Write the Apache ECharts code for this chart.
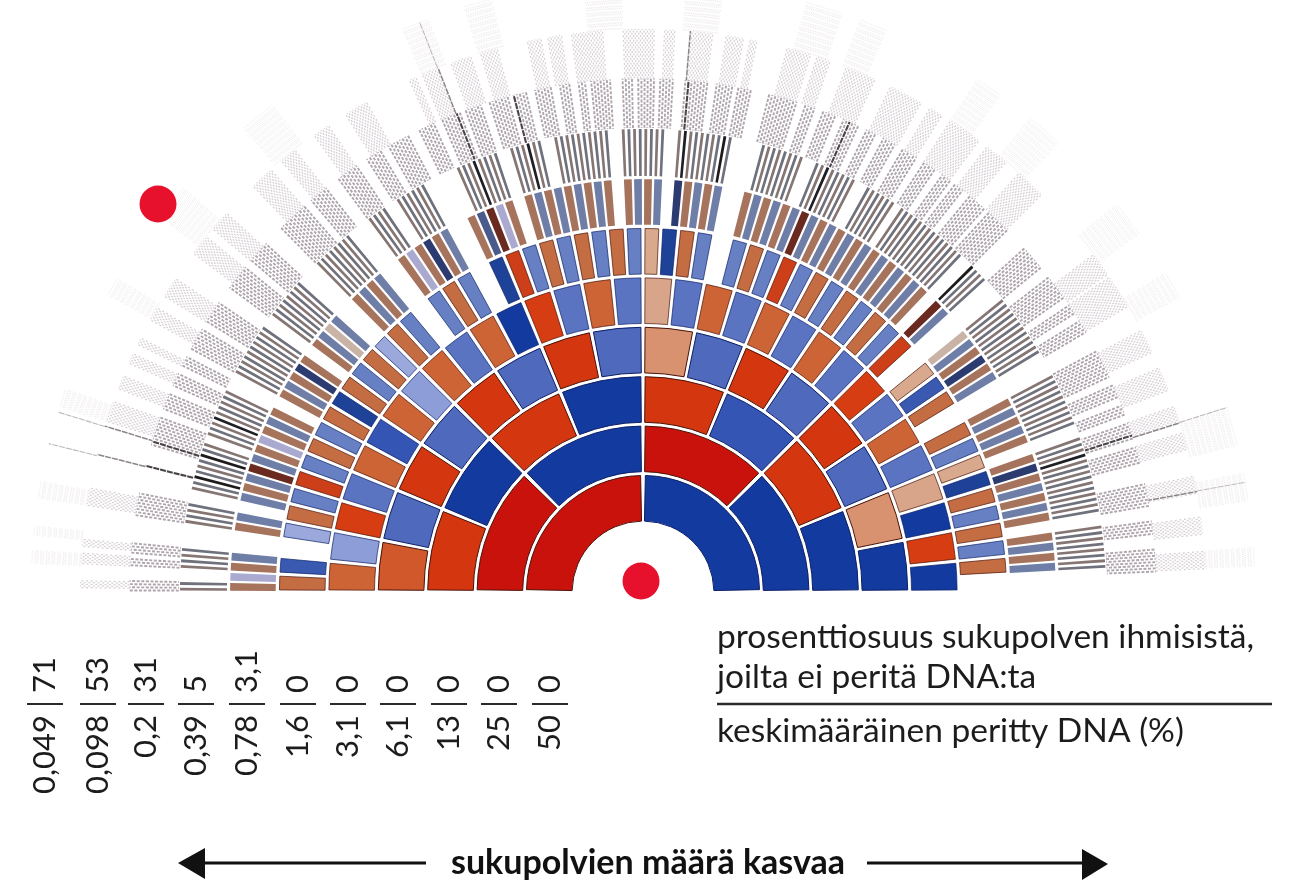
<!DOCTYPE html>
<html>
<head>
<meta charset="utf-8">
<title>sukupolvet</title>
<script src="https://cdn.jsdelivr.net/npm/echarts@6/dist/echarts.min.js"></script>
<style>
  html, body { margin: 0; padding: 0; background: #fff; }
  #chart { width: 1302px; height: 882px; }
  /* the source is a soft print scan */
  #chart canvas { filter: blur(0.45px); }
</style>
</head>
<body>
<div id="chart"></div>
<script>
// inherited-DNA strength per ancestor, clockwise from the left: 0 = nothing inherited
const ring1 = [4, 4];
const ring2 = [4, 4, 4, 4];
const ring3 = [3, 4, 3, 4, 3, 3, 3, 4];
const ring4 = [2, 2, 3, 2, 3, 2, 3, 2, 1, 2, 3, 2, 3, 2, 1, 4];
const ring5 = [2, 1, 3, 2, 2, 3, 2, 1, 2, 2, 2, 4, 3, 2, 2, 2,
  1, 2, 2, 2, 2, 2, 2, 2, 3, 2, 2, 2, 1, 4, 3, 4];
const ring6 = [2, 3, 0, 1, 2, 2, 3, 2, 2, 2, 2, 4, 2, 2, 2, 1,
  2, 2, 0, 2, 2, 2, 0, 4, 3, 2, 2, 2, 2, 2, 2, 2,
  1, 4, 2, 2, 0, 2, 2, 2, 3, 2, 2, 2, 2, 2, 2, 2,
  3, 0, 1, 3, 2, 0, 2, 2, 1, 4, 2, 2, 2, 2, 2, 0];
const ring7 = [2, 1, 2, 2, 0, 0, 2, 2, 0, 2, 2, 2, 4, 2, 2, 1,
  2, 2, 2, 0, 2, 2, 2, 4, 2, 0, 2, 2, 1, 2, 0, 0,
  2, 2, 2, 2, 0, 0, 2, 1, 2, 4, 2, 2, 0, 0, 2, 3,
  4, 1, 2, 0, 2, 2, 2, 2, 2, 2, 2, 2, 2, 0, 2, 2,
  2, 2, 0, 4, 2, 2, 2, 2, 0, 0, 2, 2, 2, 2, 2, 2,
  4, 2, 2, 2, 2, 2, 2, 2, 2, 2, 2, 2, 2, 2, 2, 0,
  4, 2, 0, 0, 1, 2, 2, 4, 2, 2, 0, 0, 2, 2, 2, 2,
  2, 0, 2, 4, 2, 2, 2, 2, 2, 0, 2, 2, 2, 2, 0, 0];

// outer generations are too fine to list one by one: runs of present ancestors [first, last]
const ring8Runs = [[0, 1], [4, 7], [12, 15], [18, 26], [28, 36], [40, 49], [52, 55], [56, 59], [64, 67], [68, 71],
  [76, 79], [82, 87], [94, 101], [104, 109], [112, 121], [124, 127], [128, 131], [134, 143], [149, 156],
  [159, 166], [169, 174], [176, 179], [180, 189], [192, 195], [200, 211], [216, 225], [228, 241], [244, 251]];
const ring9Runs = [[0, 3], [8, 10], [12, 15], [24, 31], [47, 56], [59, 64], [67, 71], [74, 77], [80, 87], [90, 97],
  [103, 111], [114, 121], [128, 138], [141, 147], [152, 159], [163, 168], [171, 178], [182, 187], [190, 196],
  [198, 203], [206, 212], [215, 218], [221, 226], [229, 232], [235, 237], [239, 245], [249, 252], [254, 259],
  [261, 265], [269, 276], [279, 284], [286, 290], [296, 305], [308, 311], [314, 318], [321, 326], [329, 332],
  [335, 339], [342, 347], [350, 354], [357, 360], [362, 365], [368, 374], [376, 384], [392, 400], [404, 412],
  [415, 418], [421, 425], [432, 441], [444, 448], [451, 454], [457, 462], [465, 470], [477, 484], [489, 493], [498, 505]];
const ring10Runs = [[2, 6], [16, 22], [26, 30], [50, 60], [100, 112], [120, 128], [136, 142], [148, 152], [164, 172],
  [180, 192], [210, 222], [228, 240], [262, 276], [284, 294], [308, 318], [330, 344], [372, 376], [380, 390],
  [398, 410], [416, 426], [444, 452], [456, 464], [470, 488], [500, 518], [524, 530], [540, 552], [560, 570],
  [574, 578], [596, 610], [614, 622], [632, 650], [660, 680], [686, 694], [700, 720], [726, 740], [750, 768],
  [814, 828], [830, 850], [866, 880], [890, 904], [914, 924], [930, 940], [956, 966], [980, 990], [1000, 1010]];
const ring11Runs = [[30, 44], [60, 70], [100, 118], [200, 220], [330, 350], [430, 470], [560, 600], [760, 790],
  [830, 860], [960, 1000], [1070, 1110], [1200, 1240], [1260, 1290], [1400, 1430], [1470, 1510], [1600, 1640],
  [1690, 1720], [1850, 1890], [1920, 1950], [2000, 2020]];

// the few ancestors that print as dark lines in the outer rings
const ring8Dark = [20, 24, 31, 97, 107, 135, 142, 161, 192, 231];
const ring9Dark = [40, 48, 195, 214, 270, 323, 461];
const ring10Dark = [80, 97, 390, 539, 924, 965];
const ring11Dark = [159, 194, 780, 1848, 1930];

// table under the fan
const avgInherited = ["0,049", "0,098", "0,2", "0,39", "0,78", "1,6", "3,1", "6,1", "13", "25", "50"];
const noInheritShare = ["71", "53", "31", "5", "3,1", "0", "0", "0", "0", "0", "0"];
const columnX = [45, 98, 146, 196, 247, 298, 348, 398, 449, 499, 550];

const REDS = {
  1: ["", "#d99270", "#d0582a", "#d4370f", "#c9120c"],
  5: ["", "#d9a58a", "#cc6436", "#d63d12", "#c9120c"],
  6: ["", "#d8a98c", "#c46c42", "#cc3f18", "#c9120c"],
  7: ["", "#c9b3a6", "#a6735c", "#8a4a3a", "#6b2a20"],
  8: ["", "#a89c98", "#857674", "#5a4c4a", "#1f1a1c"]
};
const BLUES = {
  1: ["", "#8d9dd8", "#4f6abc", "#3555b5", "#123a9f"],
  5: ["", "#8d9dd8", "#5a74c2", "#3555b5", "#123a9f"],
  6: ["", "#9aa8dc", "#6780c4", "#3a5ab2", "#1e4298"],
  7: ["", "#aaaad0", "#6f7ea6", "#4a5a8a", "#2c3c70"],
  8: ["", "#9a9ba4", "#6f717c", "#4a4c58", "#1f1f26"]
};
const FINE = {
  9: { color: "#aea5ad", dark: "#4a4447", width: 1.9, dash: [3, 1.6] },
  10: { color: "#d8d1d6", dark: "#8b8588", width: 1.3, dash: [2, 2.6] },
  11: { color: "#eeeaec", dark: "#bdb8ba", width: 0.9, dash: [1.6, 4] }
};

function addRing(cells, ring, levels) {
  levels.forEach((level, index) => {
    if (level > 0) cells.push([ring, index, level]);
  });
}

function addRuns(cells, ring, runs, dark) {
  runs.forEach(([first, last]) => {
    for (let index = first; index <= last; index++) {
      cells.push([ring, index, dark.includes(index) ? 4 : 2]);
    }
  });
  dark.forEach(index => {
    if (!cells.some(c => c[0] === ring && c[1] === index)) cells.push([ring, index, 4]);
  });
}

const cells = [];
[ring1, ring2, ring3, ring4, ring5, ring6, ring7].forEach((levels, i) => addRing(cells, i + 1, levels));
addRuns(cells, 8, ring8Runs, ring8Dark);
addRuns(cells, 9, ring9Runs, ring9Dark);
addRuns(cells, 10, ring10Runs, ring10Dark);
addRuns(cells, 11, ring11Runs, ring11Dark);

function paletteRing(ring) {
  if (ring <= 4) return 1;
  return ring;
}

function renderCell(params, api) {
  const ring = api.value(0);
  const index = api.value(1);
  const level = api.value(2);
  const step = 180 / Math.pow(2, ring);
  const cx = params.coordSys.cx;
  const cy = params.coordSys.cy;
  const a0 = api.coord([ring - 1, index * step]);
  const a1 = api.coord([ring, (index + 1) * step]);

  if (ring >= 9) {
    const fine = FINE[ring];
    const mid = (index + 0.5) * step;
    const p0 = api.coord([ring - 1, mid]);
    const p1 = api.coord([ring, mid]);
    return {
      type: "line",
      shape: { x1: p0[0], y1: p0[1], x2: p1[0], y2: p1[1] },
      style: {
        stroke: level === 4 ? fine.dark : fine.color,
        lineWidth: level === 4 ? fine.width + 0.2 : fine.width,
        lineDash: level === 4 ? [6, 1] : fine.dash,
        lineDashOffset: index % 2 ? 2.2 : 0
      }
    };
  }

  const r0 = Math.hypot(a0[0] - cx, a0[1] - cy);
  const r1 = Math.hypot(a1[0] - cx, a1[1] - cy);
  let start = Math.atan2(a0[1] - cy, a0[0] - cx);
  let end = Math.atan2(a1[1] - cy, a1[0] - cx);
  if (start > 0) start -= Math.PI * 2;
  if (end > 0.0001 && end > Math.PI) end -= Math.PI * 2;

  const rim = ring >= 8 ? 1.2 : 1.9;
  const sidePad = (ring >= 8 ? 1.35 : ring === 7 ? 1.1 : 1.9) / ((r0 + r1) / 2);
  const pal = paletteRing(ring);
  const isBlue = index % 2 === 1;
  const fill = (isBlue ? BLUES : REDS)[pal][level];
  return {
    type: "sector",
    shape: {
      cx: cx, cy: cy,
      r0: r0 + rim, r: r1 - rim,
      startAngle: start + sidePad, endAngle: end - sidePad,
      clockwise: true
    },
    style: {
      fill: fill,
      stroke: ring <= 6 ? (isBlue ? "#0d1f66" : "#4a130a") : null,
      lineWidth: ring <= 4 ? 1 : 0.7
    }
  };
}

const FONT = 'Lato, "Open Sans", sans-serif';
const graphics = [];

avgInherited.forEach((label, i) => {
  const x = columnX[i];
  graphics.push({
    type: "text", x: x, y: 715, rotation: Math.PI / 2,
    style: { text: label, fill: "#1c1c1c", font: "400 31px " + FONT, align: "right", verticalAlign: "middle" }
  });
  graphics.push({
    type: "text", x: x, y: 693, rotation: Math.PI / 2,
    style: { text: noInheritShare[i], fill: "#1c1c1c", font: "400 31px " + FONT, align: "left", verticalAlign: "middle" }
  });
  graphics.push({
    type: "line", shape: { x1: x - 18, y1: 704, x2: x + 18, y2: 704 },
    style: { stroke: "#2a2a2a", lineWidth: 2.2 }
  });
});

graphics.push(
  { type: "text", x: 717, y: 637, style: { text: "prosenttiosuus sukupolven ihmisistä,", fill: "#1c1c1c", font: "400 33.5px " + FONT, verticalAlign: "middle" } },
  { type: "text", x: 717, y: 677, style: { text: "joilta ei peritä DNA:ta", fill: "#1c1c1c", font: "400 33.5px " + FONT, verticalAlign: "middle" } },
  { type: "line", shape: { x1: 717, y1: 704, x2: 1272, y2: 704 }, style: { stroke: "#2a2a2a", lineWidth: 2.5 } },
  { type: "text", x: 717, y: 731, style: { text: "keskimääräinen peritty DNA (%)", fill: "#1c1c1c", font: "400 33.5px " + FONT, verticalAlign: "middle" } },
  { type: "text", x: 648, y: 863, style: { text: "sukupolvien määrä kasvaa", fill: "#111", font: "700 34px " + FONT, align: "center", verticalAlign: "middle" } },
  { type: "line", shape: { x1: 195, y1: 863, x2: 426, y2: 863 }, style: { stroke: "#111", lineWidth: 3 } },
  { type: "polygon", shape: { points: [[178, 863], [205, 848], [205, 879]] }, style: { fill: "#111" } },
  { type: "line", shape: { x1: 867, y1: 863, x2: 1090, y2: 863 }, style: { stroke: "#111", lineWidth: 3 } },
  { type: "polygon", shape: { points: [[1108, 864], [1082, 849], [1082, 880]] }, style: { fill: "#111" } },
  { type: "circle", shape: { cx: 158, cy: 204, r: 18.5 }, style: { fill: "#e8112d" } },
  { type: "circle", shape: { cx: 641, cy: 581, r: 18.5 }, style: { fill: "#e8112d" } }
);

const chart = echarts.init(document.getElementById("chart"));
chart.setOption({
  animation: false,
  backgroundColor: "#fff",
  polar: { center: [643, 592], radius: 612.4 },
  angleAxis: { type: "value", min: 0, max: 360, startAngle: 180, clockwise: true, show: false },
  radiusAxis: { type: "value", min: -1.397, max: 11, show: false },
  series: [
    {
      type: "custom",
      coordinateSystem: "polar",
      data: cells,
      renderItem: renderCell,
      silent: true,
      clip: false,
      progressive: 0
    }
  ],
  graphic: { elements: graphics.map(g => Object.assign({ z: 10 }, g)) }
});
</script>
</body>
</html>
